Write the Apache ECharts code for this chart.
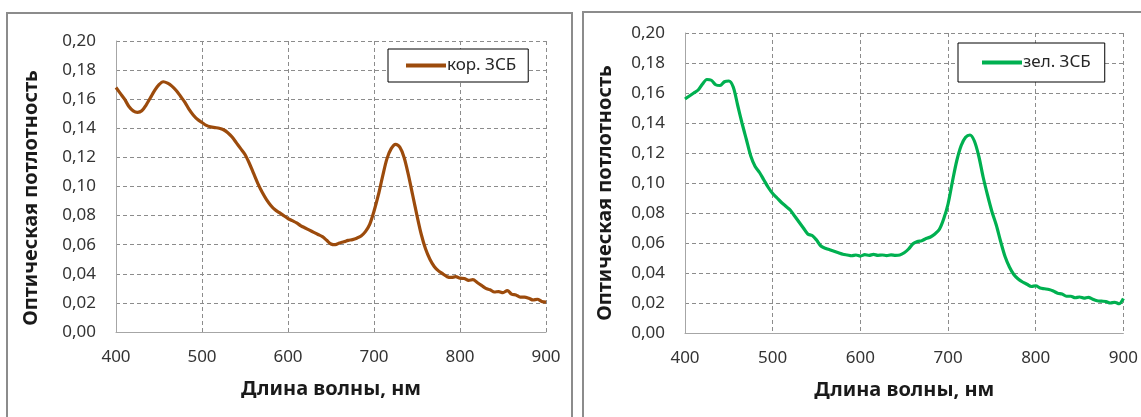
<!DOCTYPE html>
<html>
<head>
<meta charset="utf-8">
<script src="https://cdn.jsdelivr.net/npm/echarts@6/dist/echarts.min.js"></script>
<style>
  html, body { margin: 0; padding: 0; background: #ffffff; }
  #chart { width: 1141px; height: 417px; }
</style>
</head>
<body>
<div id="chart"></div>
<script>
// Wavelength grid, nm (5 nm step)
const wavelengthStart = 400;
const wavelengthStep = 5;

// Optical density, brown sample (кор. ЗСБ)
const brownValues = [
  0.168, 0.164, 0.160, 0.155, 0.152, 0.151, 0.152, 0.156, 0.161, 0.166,
  0.170, 0.172, 0.171, 0.169, 0.166, 0.162, 0.158, 0.153, 0.149, 0.146,
  0.144, 0.142, 0.141, 0.1405, 0.140, 0.139, 0.137, 0.134, 0.130, 0.126,
  0.122, 0.116, 0.109, 0.102, 0.096, 0.091, 0.087, 0.084, 0.082, 0.080,
  0.078, 0.0765, 0.075, 0.073, 0.0715, 0.0700, 0.0685, 0.067, 0.0655, 0.063,
  0.0605, 0.060, 0.0612, 0.062, 0.063, 0.0635, 0.0645, 0.066, 0.069, 0.074,
  0.083, 0.094, 0.107, 0.119, 0.126, 0.129, 0.127, 0.120, 0.108, 0.094,
  0.080, 0.067, 0.057, 0.050, 0.045, 0.042, 0.040, 0.038, 0.0375, 0.038,
  0.037, 0.0368, 0.0355, 0.036, 0.034, 0.032, 0.030, 0.029, 0.0275, 0.0278,
  0.027, 0.0285, 0.026, 0.0255, 0.024, 0.024, 0.0232, 0.022, 0.0225, 0.021,
  0.0205
];

// Optical density, green sample (зел. ЗСБ)
const greenValues = [
  0.156, 0.158, 0.160, 0.162, 0.166, 0.169, 0.1685, 0.1655, 0.165, 0.1675,
  0.168, 0.164, 0.152, 0.140, 0.129, 0.118, 0.111, 0.107, 0.102, 0.097,
  0.093, 0.090, 0.087, 0.0845, 0.082, 0.078, 0.074, 0.070, 0.066, 0.065,
  0.062, 0.058, 0.0565, 0.0555, 0.0545, 0.0535, 0.0525, 0.052, 0.0515, 0.052,
  0.0513, 0.0522, 0.0518, 0.0524, 0.0518, 0.052, 0.0516, 0.0521, 0.0518, 0.052,
  0.0535, 0.056, 0.0595, 0.061, 0.0615, 0.063, 0.064, 0.066, 0.069, 0.076,
  0.086, 0.101, 0.115, 0.125, 0.1305, 0.132, 0.128, 0.118, 0.104, 0.092,
  0.081, 0.072, 0.061, 0.051, 0.044, 0.039, 0.036, 0.034, 0.0325, 0.031,
  0.0315, 0.030, 0.0295, 0.029, 0.028, 0.0265, 0.026, 0.0245, 0.0245, 0.0235,
  0.024, 0.0232, 0.0238, 0.0225, 0.0215, 0.0212, 0.021, 0.020, 0.0205, 0.0195,
  0.023
];

const seriesNames = ['кор. ЗСБ', 'зел. ЗСБ'];
const seriesColors = ['#9c4b0c', '#00b050'];
const xTitle = 'Длина волны, нм';
const yTitle = 'Оптическая потлотность';

function toPairs(values) {
  return values.map((v, i) => [wavelengthStart + i * wavelengthStep, v]);
}

const FONT = '"Noto Sans", "DejaVu Sans", sans-serif';
const gridDash = { color: '#8c8c8c', type: [4, 3], width: 1 };

function xAxisFor(gridIndex) {
  return {
    type: 'value', gridIndex, min: 400, max: 900, interval: 100,
    name: xTitle, nameLocation: 'middle', nameGap: 47,
    nameTextStyle: { fontFamily: FONT, fontSize: 20, fontWeight: 'bold', color: '#1a1a1a' },
    axisLine: { show: true, lineStyle: { color: '#a6a6a6', width: 1 } },
    axisTick: { show: false },
    axisLabel: { margin: 17, fontFamily: FONT, fontSize: 17, color: '#333333' },
    splitLine: { show: true, lineStyle: gridDash }
  };
}

function yAxisFor(gridIndex) {
  return {
    type: 'value', gridIndex, min: 0, max: 0.2, interval: 0.02,
    axisLine: { show: true, lineStyle: { color: '#a6a6a6', width: 1 } },
    axisTick: { show: false },
    axisLabel: {
      margin: 20, fontFamily: FONT, fontSize: 17, color: '#333333',
      formatter: v => v.toFixed(2).replace('.', ',')
    },
    splitLine: { show: true, lineStyle: gridDash }
  };
}

function legendFor(name, left, top, padding) {
  return {
    data: [name], left, top, padding,
    orient: 'horizontal',
    icon: 'rect', itemWidth: 40, itemHeight: 4,
    borderColor: '#000000', borderWidth: 1, borderRadius: 0,
    backgroundColor: '#ffffff',
    selectedMode: false,
    textStyle: { fontFamily: FONT, fontSize: 17, color: '#262626', padding: [0, 0, 0, -4] }
  };
}

function lineSeries(name, values, idx) {
  return {
    name, type: 'line', xAxisIndex: idx, yAxisIndex: idx,
    data: toPairs(values),
    showSymbol: false, symbol: 'none', smooth: 0.3,
    lineStyle: { color: seriesColors[idx], width: 3.2 },
    itemStyle: { color: seriesColors[idx] },
    animation: false
  };
}

const chart = echarts.init(document.getElementById('chart'), null, { renderer: 'canvas' });

chart.setOption({
  backgroundColor: '#ffffff',
  animation: false,
  grid: [
    { left: 116, top: 41, width: 430, height: 291 },
    { left: 685, top: 33, width: 439, height: 300 }
  ],
  xAxis: [xAxisFor(0), xAxisFor(1)],
  yAxis: [yAxisFor(0), yAxisFor(1)],
  legend: [
    legendFor(seriesNames[0], 388, 49, [8, 12, 8, 18]),
    legendFor(seriesNames[1], 958, 43, [11, 14, 11, 24])
  ],
  series: [
    lineSeries(seriesNames[0], brownValues, 0),
    lineSeries(seriesNames[1], greenValues, 1)
  ],
  graphic: [
    // panel frames
    { type: 'rect', shape: { x: 7, y: 13, width: 565, height: 420 }, silent: true, z: -10,
      style: { fill: 'none', stroke: '#8c8c8c', lineWidth: 2 } },
    { type: 'rect', shape: { x: 583, y: 12, width: 580, height: 420 }, silent: true, z: -10,
      style: { fill: 'none', stroke: '#8c8c8c', lineWidth: 2 } },
    // vertical axis titles
    { type: 'text', x: 31, y: 198, rotation: Math.PI / 2, silent: true,
      style: { text: yTitle, fontFamily: FONT, fontSize: 20, fontWeight: 'bold', fill: '#1a1a1a',
               align: 'center', verticalAlign: 'middle' } },
    { type: 'text', x: 605, y: 193, rotation: Math.PI / 2, silent: true,
      style: { text: yTitle, fontFamily: FONT, fontSize: 20, fontWeight: 'bold', fill: '#1a1a1a',
               align: 'center', verticalAlign: 'middle' } }
  ]
});
</script>
</body>
</html>
